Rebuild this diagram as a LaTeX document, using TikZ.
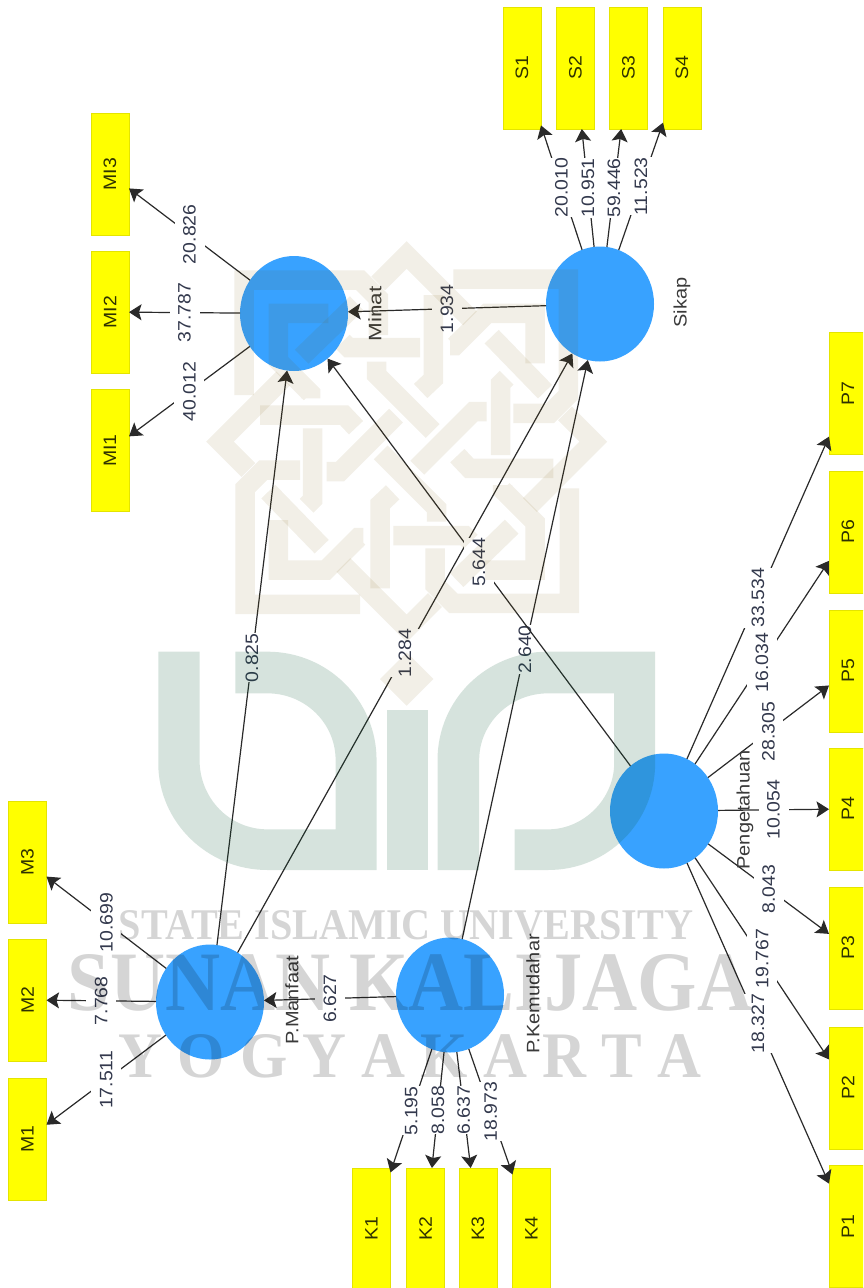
\documentclass[tikz,border=0pt]{standalone}
\usepackage{fontspec}
\setmainfont{Liberation Sans}
\newfontfamily\wmfont{Liberation Serif}
\usetikzlibrary{shapes.geometric,arrows.meta,positioning,calc}
\definecolor{circblue}{HTML}{38A2FF}
\definecolor{boxyellow}{HTML}{FFFF00}
\definecolor{boxedge}{HTML}{E4E400}
\definecolor{linegrey}{HTML}{2A2A2A}
\definecolor{labtext}{HTML}{33394D}
\definecolor{nametext}{HTML}{3A3A3A}
\definecolor{boxtext}{HTML}{2F3200}
\definecolor{knotink}{HTML}{765600}
\definecolor{uinink}{HTML}{055631}
\newcommand{\numtxt}[1]{\scalebox{1.08}[1]{#1}}
\newcommand{\nametxt}[1]{\scalebox{1.11}[1]{#1}}
\tikzset{
  lv/.style={ellipse,fill=circblue,minimum width=108pt,minimum height=115pt,inner sep=0pt,outer sep=0pt},
  ind/.style={rectangle,rotate=90,draw=boxedge,line width=1pt,fill=boxyellow,minimum width=122pt,minimum height=38pt,inner sep=0pt,outer sep=0pt,text=boxtext,font=\fontsize{18}{18}\selectfont},
  arr/.style={draw=linegrey,line width=1.2pt,-{Stealth[length=12.5pt,width=16pt,inset=2.5pt]}},
  lab/.style={midway,rotate=90,fill=white,text=labtext,inner xsep=0pt,inner ysep=0pt,minimum height=30pt,font=\fontsize{18}{18}\selectfont},
  lvname/.style={rotate=90,text=nametext,font=\fontsize{18}{18}\selectfont,inner sep=0pt},
  knot/.style={draw=knotink,draw opacity=0.095,line width=19.5pt,miter limit=10,line join=miter,line cap=butt},
  wm/.style={text=black,text opacity=0.165,inner sep=0pt}
}
\begin{document}
\begin{tikzpicture}[x=1pt,y=-1pt]
\useasboundingbox (0,0) rectangle (863,1288);
\clip (0,0) rectangle (863,1288);
\fill[white] (0,0) rectangle (863,1288);

% latent variables
\node[lv] (man) at (210,1002) {};
\node[lv] (kem) at (450,995) {};
\node[lv] (min) at (294,313.5) {};
\node[lv] (sik) at (600,304) {};
\node[lv] (pen) at (664,811) {};

% indicators
\node[ind] (M1) at (27.5,1139) {\numtxt{M1}};
\node[ind] (M2) at (27.5,1000) {\numtxt{M2}};
\node[ind] (M3) at (27.5,862) {\numtxt{M3}};
\node[ind] (K1) at (371.5,1229) {\numtxt{K1}};
\node[ind] (K2) at (425.5,1229) {\numtxt{K2}};
\node[ind] (K3) at (478,1229) {\numtxt{K3}};
\node[ind] (K4) at (531.5,1229) {\numtxt{K4}};
\node[ind] (MI1) at (110,450.5) {\numtxt{MI1}};
\node[ind] (MI2) at (110,312) {\numtxt{MI2}};
\node[ind] (MI3) at (110,174) {\numtxt{MI3}};
\node[ind] (S1) at (522,68) {\numtxt{S1}};
\node[ind] (S2) at (575.5,68) {\numtxt{S2}};
\node[ind] (S3) at (628.5,68) {\numtxt{S3}};
\node[ind] (S4) at (682,68) {\numtxt{S4}};
\node[ind] (P1) at (848,1226.5) {\numtxt{P1}};
\node[ind] (P2) at (848,1088) {\numtxt{P2}};
\node[ind] (P3) at (848,948) {\numtxt{P3}};
\node[ind] (P4) at (848,809) {\numtxt{P4}};
\node[ind] (P5) at (848,671) {\numtxt{P5}};
\node[ind] (P6) at (848,532) {\numtxt{P6}};
\node[ind] (P7) at (848,393.5) {\numtxt{P7}};

% connectors
\draw[arr] (man) -- (M1) node[lab]{\numtxt{17.511}};
\draw[arr] (man) -- (M2) node[lab]{\numtxt{7.768}};
\draw[arr] (man) -- (M3) node[lab]{\numtxt{10.699}};
\draw[arr] (kem) -- (K1) node[lab]{\numtxt{5.195}};
\draw[arr] (kem) -- (K2) node[lab]{\numtxt{8.058}};
\draw[arr] (kem) -- (K3) node[lab]{\numtxt{6.637}};
\draw[arr] (kem) -- (K4) node[lab]{\numtxt{18.973}};
\draw[arr] (min) -- (MI1) node[lab]{\numtxt{40.012}};
\draw[arr] (min) -- (MI2) node[lab]{\numtxt{37.787}};
\draw[arr] (min) -- (MI3) node[lab]{\numtxt{20.826}};
\draw[arr] (sik) -- (S1) node[lab]{\numtxt{20.010}};
\draw[arr] (sik) -- (S2) node[lab]{\numtxt{10.951}};
\draw[arr] (sik) -- (S3) node[lab]{\numtxt{59.446}};
\draw[arr] (sik) -- (S4) node[lab]{\numtxt{11.523}};
\draw[arr] (pen) -- (P1) node[lab]{\numtxt{18.327}};
\draw[arr] (pen) -- (P2) node[lab]{\numtxt{19.767}};
\draw[arr] (pen) -- (P3) node[lab]{\numtxt{8.043}};
\draw[arr] (pen) -- (P4) node[lab]{\numtxt{10.054}};
\draw[arr] (pen) -- (P5) node[lab]{\numtxt{28.305}};
\draw[arr] (pen) -- (P6) node[lab]{\numtxt{16.034}};
\draw[arr] (pen) -- (P7) node[lab]{\numtxt{33.534}};
\draw[arr] (kem) -- (man) node[lab]{\numtxt{6.627}};
\draw[arr] (man) -- (min) node[lab]{\numtxt{0.825}};
\draw[arr] (man) -- (sik) node[lab]{\numtxt{1.284}};
\draw[arr] (kem) -- (sik) node[lab]{\numtxt{2.640}};
\draw[arr] (pen) -- (min) node[lab]{\numtxt{5.644}};
\draw[arr] (sik) -- (min) node[lab]{\numtxt{1.934}};

% latent variable names
\node[lvname] (nman) at (292,1000) {\nametxt{P.Manfaat}};
\node[lvname] (nkem) at (533,994) {\nametxt{P.Kemudahar}};
\node[lvname] (nmin) at (375,314) {\scalebox{1.25}[1]{Minat}};
\node[lvname] (nsik) at (682,302.5) {\nametxt{Sikap}};
\node[lvname] (npen) at (745,810) {\nametxt{Pengetahuan}};

% watermark, laid over everything with low opacity
\begin{scope}[shift={(200,235)},scale=1/3]
  \foreach \r in {0,90,180,270} {
    \begin{scope}[rotate around={\r:(620,620)}]
      \draw[knot] (480,1108)--(135,1108)--(135,760)--(190,705)--(300,705);
      \draw[knot] (145,705)--(60,620)--(250,430);
      \draw[knot] (180,540)--(432,540)--(468,578);
      \draw[knot] (380,710)--(420,710)--(588,542);
      \draw[knot] (338,580)--(338,794)--(320,812);
      \draw[knot] (205,770)--(365,935);
      \draw[knot] (235,855)--(235,1005)--(378,1005)--(475,908)--(490,908);
    \end{scope}
  }
  \fill[knotink,fill opacity=0.095] (540,1332)--(620,1252)--(700,1332)--(620,1412)--cycle;
\end{scope}
\begin{scope}[shift={(140,640)},xscale=0.34435,yscale=0.33333]
  \fill[uinink,fill opacity=0.16] (53,35)--(173,35)--(173,360) .. controls (173,475) and (260,568) .. (370,568)
    --(568,568)--(568,360) .. controls (568,250) and (480,160) .. (370,160)
    --(277,160)--(277,35)--(370,35) .. controls (545,35) and (687,180) .. (687,360)
    --(687,690)--(370,690) .. controls (195,690) and (53,545) .. (53,370)--cycle;
  \fill[uinink,fill opacity=0.16] (716,210) rectangle (836,690);
  \fill[uinink,fill opacity=0.16] (864,690)--(864,360) .. controls (864,180) and (1005,35) .. (1185,35)
    --(1496,35)--(1496,370) .. controls (1496,545) and (1360,690) .. (1185,690)
    --(1088,690)--(1088,568)--(1185,568) .. controls (1290,568) and (1377,475) .. (1377,370)
    --(1377,160)--(1185,160) .. controls (1075,160) and (985,250) .. (985,360)
    --(985,690)--cycle;
\end{scope}
\node[wm] (wm1) at (406,925) {\resizebox{574pt}{29pt}{\wmfont\bfseries STATE ISLAMIC UNIVERSITY}};
\node[wm] (wm2) at (410,983) {\resizebox{684pt}{56pt}{\wmfont\bfseries SUNAN KALIJAGA}};
\node[wm] (wm3) at (410,1056) {\resizebox{583pt}{43pt}{\wmfont\bfseries Y O G Y A K A R T A}};
\end{tikzpicture}
\end{document}
